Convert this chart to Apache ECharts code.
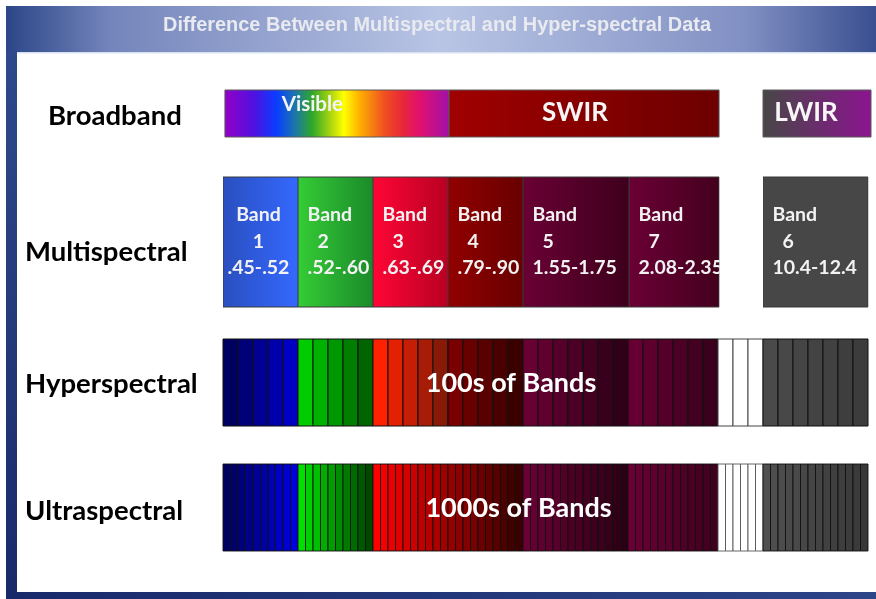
<!DOCTYPE html>
<html><head><meta charset="utf-8">
<script src="https://cdn.jsdelivr.net/npm/echarts@6/dist/echarts.min.js"></script>
<style>html,body{margin:0;padding:0;background:#fff}#c{width:876px;height:599px}</style>
</head><body><div id="c"></div>
<script>
// ---------- data ----------
const titleText = 'Difference Between Multispectral and Hyper-spectral Data';
const rowNames = ['Broadband', 'Multispectral', 'Hyperspectral', 'Ultraspectral'];
// vertical extent of each row (y axis units, 0 at top)
const rowTop = [7.6, 25, 57.4, 82.4];
const rowBottom = [17, 51, 74.8, 99.8];

// broadband regions (x axis units = hyperspectral band widths)
const broadNames = ['Visible', 'SWIR', 'LWIR'];
const broadStart = [0.13, 15.07, 36];
const broadEnd = [15.07, 33.07, 43.2];

// multispectral bands
const bandNumbers = ['1', '2', '3', '4', '5', '7', '6'];
const bandRanges = ['.45-.52', '.52-.60', '.63-.69', '.79-.90', '1.55-1.75', '2.08-2.35', '10.4-12.4'];
const bandStart = [0, 5, 10, 15, 20, 27.07, 36];
const bandEnd = [5, 10, 15, 20, 27.07, 33.07, 43];

// hyperspectral / ultraspectral: number of narrow bands in each spectral group
const hyperGroupCounts = [5, 5, 5, 5, 7, 6, 3, 7];   // bands of width 1
const ultraGroupCounts = [10, 10, 20, 14, 12, 6, 14]; // bands of width 0.5
const hyperLabel = '100s of Bands';
const ultraLabel = '1000s of Bands';

// ---------- styles ----------
const FONT = 'Lato, "Open Sans", sans-serif';
const visibleStops = [
  [0, '#9400c8'], [0.13, '#5010e0'], [0.23, '#0a3cff'], [0.31, '#1a74b0'], [0.39, '#30a828'],
  [0.47, '#a8d410'], [0.53, '#ffff00'], [0.6, '#ffb000'], [0.71, '#f05020'], [0.79, '#e82838'],
  [0.87, '#e01070'], [1, '#a010a8']
];
const broadFills = [
  visibleStops,
  [[0, '#a00000'], [1, '#6c0000']],
  [[0, '#474747'], [1, '#8c1490']]
];
const broadTextShift = [0, -9, -11];
const bandFills = [
  ['#2a4fbf', '#3468ff'], ['#36cc36', '#1a8a2a'], ['#ff0636', '#b80022'], ['#920000', '#680000'],
  ['#6a0035', '#3e001c'], ['#6a0035', '#44001e'], ['#474747', '#474747']
];
const hyperGroupColors = [
  ['#000060', '#0000c4'], ['#00cc00', '#006400'], ['#ff2200', '#8a1a08'], ['#780000', '#3a0000'],
  ['#680034', '#300018'], ['#660033', '#3a001c'], ['#ffffff', '#ffffff'], ['#4a4a4a', '#3c3c3c']
];
const ultraGroupColors = [
  ['#000060', '#0000e0'], ['#00e000', '#004800'], ['#ff0000', '#380000'], ['#6a0035', '#2c0014'],
  ['#6a0035', '#40001e'], ['#ffffff', '#ffffff'], ['#505050', '#383838']
];

function hex(c) { return [parseInt(c.substr(1, 2), 16), parseInt(c.substr(3, 2), 16), parseInt(c.substr(5, 2), 16)]; }
function mix(a, b, t) {
  const A = hex(a), B = hex(b);
  return 'rgb(' + A.map((v, i) => Math.round(v + (B[i] - v) * t)).join(',') + ')';
}
function hGrad(stops) {
  return new echarts.graphic.LinearGradient(0, 0, 1, 0, stops.map(s => ({ offset: s[0], color: s[1] })));
}

// build strip items from group counts
function buildStrips(counts, colors, width, row) {
  const items = []; let pos = 0;
  counts.forEach((n, g) => {
    for (let k = 0; k < n; k++) {
      const t = n > 1 ? k / (n - 1) : 0;
      items.push({ value: [pos, pos + width, row], fill: mix(colors[g][0], colors[g][1], t), white: colors[g][0] === '#ffffff' });
      pos += width;
    }
  });
  return items;
}
const hyperItems = buildStrips(hyperGroupCounts, hyperGroupColors, 1, 2);
const ultraItems = buildStrips(ultraGroupCounts, ultraGroupColors, 0.5, 3);

function rectOf(api) {
  const s = api.value(0), e = api.value(1), r = api.value(2);
  const p0 = api.coord([s, rowTop[r]]), p1 = api.coord([e, rowBottom[r]]);
  return { x: p0[0], y: p0[1], width: p1[0] - p0[0], height: p1[1] - p0[1] };
}

// narrow the title font to the width of the reference title
const TITLE_FONT = 'bold 20px "Liberation Sans", Arial, sans-serif';
const mctx = document.createElement('canvas').getContext('2d');
mctx.font = TITLE_FONT;
const titleScale = 548 / mctx.measureText(titleText).width;
const ROW_FONT = 'bold 27.5px ' + FONT;

const chart = echarts.init(document.getElementById('c'), null, { renderer: 'canvas' });

const option = {
  animation: false,
  backgroundColor: '#ffffff',
  grid: { left: 223, right: 0.5, top: 52, bottom: 7 },
  xAxis: { type: 'value', min: 0, max: 43.5, show: false },
  yAxis: { type: 'value', min: 0, max: 108, inverse: true, show: false },
  graphic: [
    { type: 'rect', shape: { x: 6, y: 6, width: 870, height: 46 },
      style: { fill: hGrad([[0, '#2b4688'], [0.12, '#7485bb'], [0.5, '#b9c5e5'], [0.85, '#8190c3'], [1, '#3a4f90']]) } },
    { type: 'rect', shape: { x: 6, y: 52, width: 11, height: 547 },
      style: { fill: new echarts.graphic.LinearGradient(0, 0, 0, 1, [{ offset: 0, color: '#2e4a8c' }, { offset: 1, color: '#18296a' }]) } },
    { type: 'rect', shape: { x: 6, y: 592, width: 870, height: 7 },
      style: { fill: hGrad([[0, '#18296a'], [1, '#2c4488']]) } },
    { type: 'rect', shape: { x: 17, y: 52, width: 859, height: 1.5 }, style: { fill: '#d8e2f2' } },
    { type: 'text', x: 437, y: 25, scaleX: titleScale,
      style: { text: titleText, fill: '#e8eaf0', font: TITLE_FONT, align: 'center', verticalAlign: 'middle' } },
    { type: 'text', x: 48, y: 116, style: { text: rowNames[0], fill: '#000', font: ROW_FONT, verticalAlign: 'middle' } },
    { type: 'text', x: 25, y: 252, style: { text: rowNames[1], fill: '#000', font: ROW_FONT, verticalAlign: 'middle' } },
    { type: 'text', x: 25, y: 384, style: { text: rowNames[2], fill: '#000', font: ROW_FONT, verticalAlign: 'middle' } },
    { type: 'text', x: 25, y: 511, style: { text: rowNames[3], fill: '#000', font: ROW_FONT, verticalAlign: 'middle' } }
  ],
  series: [
    { // broadband
      type: 'custom', name: rowNames[0],
      data: broadNames.map((n, i) => [broadStart[i], broadEnd[i], 0]),
      renderItem: function (params, api) {
        const r = rectOf(api), i = params.dataIndex;
        const children = [{ type: 'rect', shape: r, style: { fill: hGrad(broadFills[i]), stroke: '#5a5a5a', lineWidth: 1 } }];
        if (i === 0) {
          children.push({ type: 'text', x: r.x + r.width * 0.39, y: r.y + r.height / 2 - 9,
            style: { text: broadNames[i], fill: '#f4f4f8', font: 'bold 20.5px ' + FONT, align: 'center', verticalAlign: 'middle' } });
        } else {
          children.push({ type: 'text', x: r.x + r.width / 2 + broadTextShift[i], y: r.y + r.height / 2 - 1,
            style: { text: broadNames[i], fill: '#f6f6f6', font: 'bold 26px ' + FONT, align: 'center', verticalAlign: 'middle' } });
        }
        return { type: 'group', children: children };
      }
    },
    { // multispectral
      type: 'custom', name: rowNames[1],
      data: bandNumbers.map((n, i) => [bandStart[i], bandEnd[i], 1]),
      renderItem: function (params, api) {
        const r = rectOf(api), i = params.dataIndex;
        const fs = 'bold 19.5px ' + FONT, col = '#f2f2f2', cy = r.y + r.height / 2 - 0.5;
        const children = [{ type: 'rect', shape: r, style: { fill: hGrad([[0, bandFills[i][0]], [1, bandFills[i][1]]]), stroke: '#3a3a3a', lineWidth: 1 } }];
        let lines;
        if (i === 0) {
          const cx = r.x + r.width / 2 - 2;
          lines = [[cx, 'Band', 'center'], [cx, bandNumbers[i], 'center'], [cx, bandRanges[i], 'center']];
        } else {
          const lx = r.x + 9.5;
          lines = [[lx, 'Band', 'left'], [lx + 10, bandNumbers[i], 'left'], [lx, bandRanges[i], 'left']];
        }
        lines.forEach((L, k) => {
          children.push({ type: 'text', x: L[0], y: cy + (k - 1) * 26.5,
            style: { text: L[1], fill: col, font: fs, align: L[2], verticalAlign: 'middle' } });
        });
        return { type: 'group', children: children, clipPath: { type: 'rect', shape: { x: r.x, y: r.y - 1, width: r.width + 0.5, height: r.height + 2 } } };
      }
    },
    { // hyperspectral
      type: 'custom', name: rowNames[2],
      data: hyperItems.map(d => d.value),
      renderItem: function (params, api) {
        const r = rectOf(api), d = hyperItems[params.dataIndex];
        return { type: 'rect', shape: r, style: { fill: d.fill, stroke: d.white ? '#444' : '#111', lineWidth: 1 } };
      }
    },
    { // ultraspectral
      type: 'custom', name: rowNames[3],
      data: ultraItems.map(d => d.value),
      renderItem: function (params, api) {
        const r = rectOf(api), d = ultraItems[params.dataIndex];
        return { type: 'rect', shape: r, style: { fill: d.fill, stroke: d.white ? '#555' : '#111', lineWidth: 0.9 } };
      }
    },
    { // overlay labels
      type: 'custom', name: 'labels', z: 10,
      data: [[19.2, 2, hyperLabel], [19.7, 3, ultraLabel]],
      renderItem: function (params, api) {
        const r = api.value(1);
        const p = api.coord([api.value(0), (rowTop[r] + rowBottom[r]) / 2]);
        return { type: 'text', x: p[0], y: p[1] + 1,
          style: { text: params.dataIndex === 0 ? hyperLabel : ultraLabel, fill: '#ffffff', font: 'bold 27px ' + FONT, align: 'center', verticalAlign: 'middle' } };
      }
    }
  ]
};
chart.setOption(option);
</script>
</body></html>
